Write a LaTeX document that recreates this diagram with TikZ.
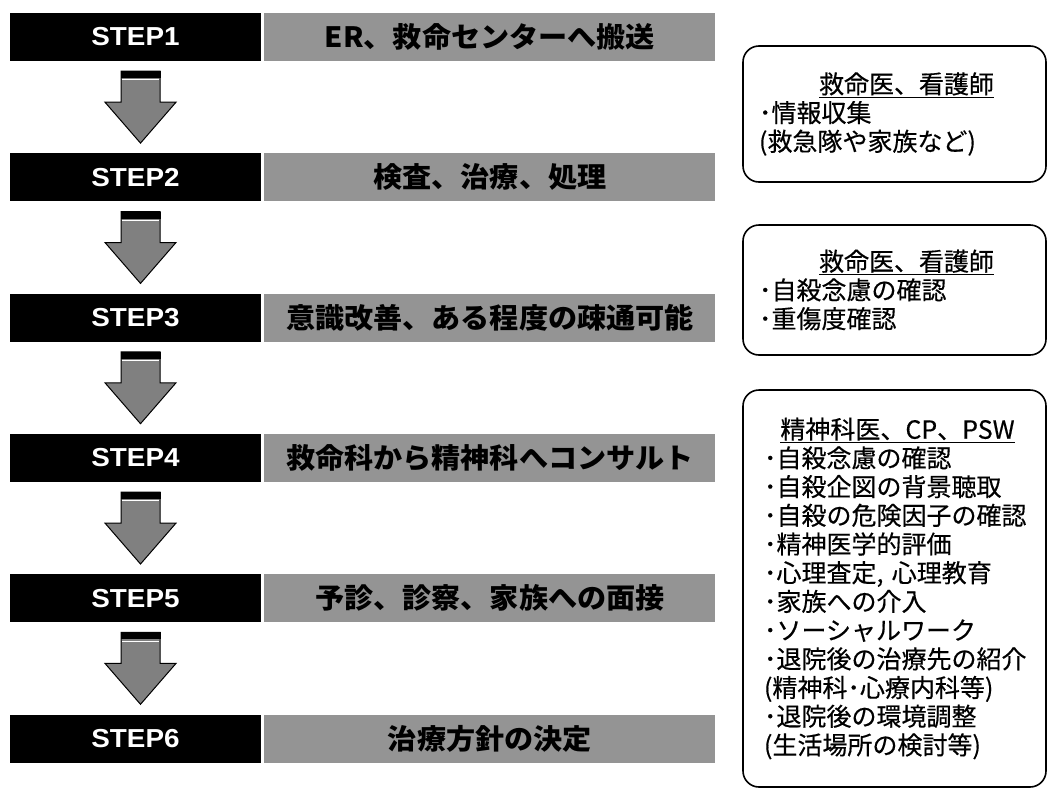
\documentclass[tikz,border=0pt]{standalone}
\usepackage{fontspec}
\newfontfamily\jpfont[FakeBold=0.4]{Noto Sans CJK JP}
\newfontfamily\jpwide[FakeStretch=1.04]{Noto Sans CJK JP}
\newfontfamily\stepfont[FakeStretch=1.07]{Liberation Sans}
\usetikzlibrary{calc}
\tikzset{
  stepbox/.style={fill=black, text=white, minimum width=251pt, minimum height=48pt, inner sep=0pt,
    font=\stepfont\bfseries\fontsize{26}{26}\selectfont},
  graybox/.style={fill=black!42, text=black, minimum width=451pt, minimum height=48pt, inner sep=0pt,
    font=\jpwide\bfseries\fontsize{28}{28}\selectfont},
  rolebox/.style={draw=black, line width=1.6pt, rounded corners=16pt, minimum width=303pt,
    align=left, inner xsep=2pt, inner ysep=0pt,
    font=\jpfont\fontsize{25}{28.7}\selectfont},
  blockarrow/.style={fill=black!50, draw=black, line width=1pt},
}
\begin{document}
\begin{tikzpicture}[x=1pt,y=-1pt]
\useasboundingbox (0,0) rectangle (1049,790);
\fill[white] (0,0) rectangle (1049,790);
% steps
\foreach \i/\t in {1/{ER、救命センターへ搬送},2/{検査、治療、処理},3/{意識改善、ある程度の疎通可能},4/{救命科から精神科へコンサルト},5/{予診、診察、家族への面接},6/{治療方針の決定}}{
  \node[stepbox] (s\i) at (135.5,{37+140.3*(\i-1)}) {STEP\i};
  \node[graybox, anchor=west] (t\i) at ($(s\i.east)+(3,0)$) {\t};
}
% block arrows
\foreach \i/\j in {1/2,2/3,3/4,4/5,5/6}{
  \coordinate (at\i) at ($(s\i.south)+(5,10)$);
  \coordinate (tip\i) at ($(s\j.north)+(5,-10)$);
  \draw[blockarrow] ($(at\i)+(-19.5,0)$) -- ($(at\i)+(-19.5,31)$) -- ($(at\i)+(-35.5,31)$)
     -- (tip\i) -- ($(at\i)+(35.5,31)$) -- ($(at\i)+(19.5,31)$) -- ($(at\i)+(19.5,0)$) -- cycle;
  \fill[black] ($(at\i)+(-20,0)$) rectangle ($(at\i)+(20,7)$);
  \draw[white, line width=0.8pt] ($(at\i)+(-18.5,8.5)$) -- ($(at\i)+(18.5,8.5)$);
}
% role boxes
\node[rolebox, minimum height=136pt, text width=271pt] (r1) at (894.5,114) {%
  \makebox[\linewidth]{\hspace{24pt}\underline{救命医、看護師}}\\
  ･情報収集\\
  (救急隊や家族など)};
\node[rolebox, minimum height=130pt, text width=271pt] (r2) at (894.5,290) {%
  \makebox[\linewidth]{\hspace{24pt}\underline{救命医、看護師}}\\
  ･自殺念慮の確認\\
  ･重傷度確認};
\node[rolebox, minimum height=397pt, text width=261pt] (r3) at (894.5,588.5) {%
  \makebox[\linewidth]{\hspace{6pt}\underline{精神科医、CP、PSW}}\\
  ･自殺念慮の確認\\
  ･自殺企図の背景聴取\\
  ･自殺の危険因子の確認\\
  ･精神医学的評価\\
  ･心理査定, 心理教育\\
  ･家族への介入\\
  ･ソーシャルワーク\\
  ･退院後の治療先の紹介\\
  (精神科･心療内科等)\\
  ･退院後の環境調整\\
  (生活場所の検討等)};
\end{tikzpicture}
\end{document}
